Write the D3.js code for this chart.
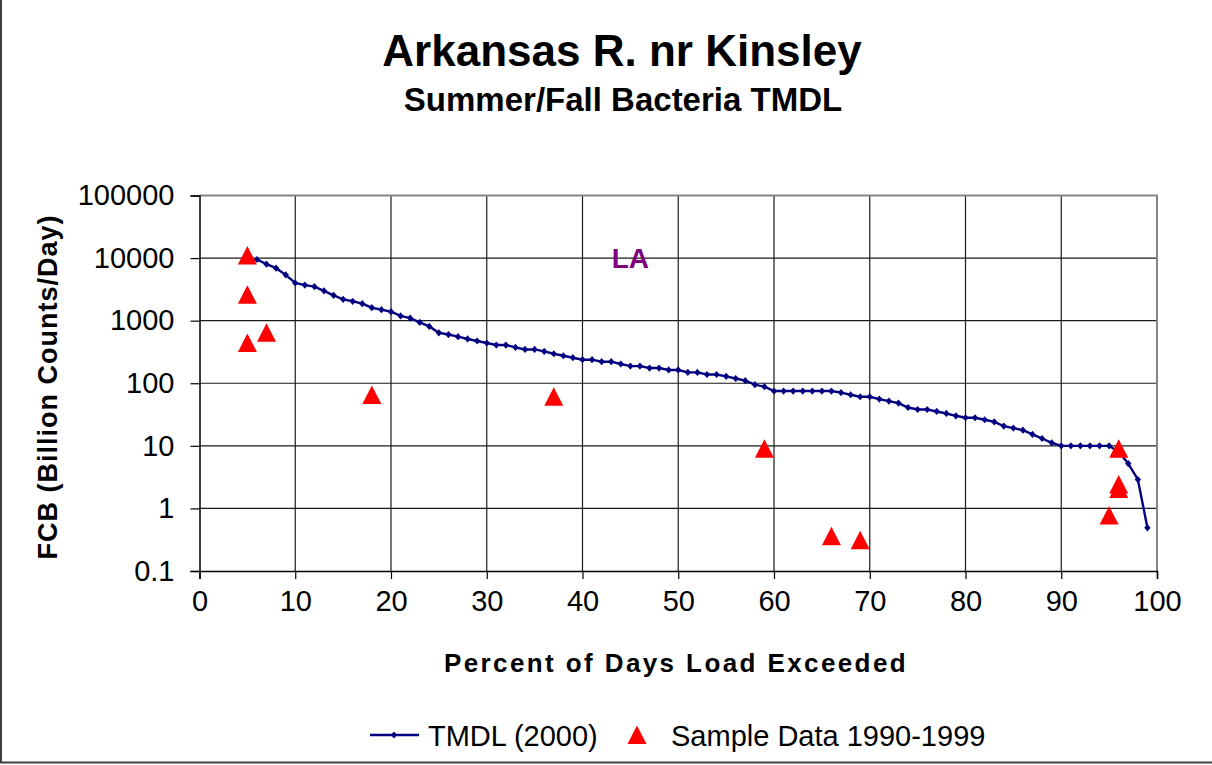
<!DOCTYPE html>
<html>
<head>
<meta charset="utf-8">
<script src="https://cdn.jsdelivr.net/npm/d3@7"></script>
<style>
  body { margin: 0; background: #fff; }
  svg { display: block; font-family: "Liberation Sans", Arial, sans-serif; }
</style>
</head>
<body>
<div id="chart"></div>
<script>
// TMDL curve (percent of days exceeded vs load)
const tmdlPct = [6, 7, 8, 9, 10, 11, 12, 13, 14, 15, 16, 17, 18, 19, 20, 21, 22, 23, 24, 25,
  26, 27, 28, 29, 30, 31, 32, 33, 34, 35, 36, 37, 38, 39, 40, 41, 42, 43, 44, 45,
  46, 47, 48, 49, 50, 51, 52, 53, 54, 55, 56, 57, 58, 59, 60, 61, 62, 63, 64, 65,
  66, 67, 68, 69, 70, 71, 72, 73, 74, 75, 76, 77, 78, 79, 80, 81, 82, 83, 84, 85,
  86, 87, 88, 89, 90, 91, 92, 93, 94, 95, 96, 97, 98, 99];
const tmdlLoad = [9500, 8000, 6900, 5400, 4000, 3700, 3500, 3000, 2540, 2190, 2040, 1870, 1610, 1500, 1390, 1190, 1100, 940, 810, 640,
  600, 555, 510, 473, 440, 408, 408, 374, 347, 347, 323, 296, 275, 256, 238, 238, 221, 221, 203, 188,
  188, 175, 175, 163, 163, 149, 149, 138, 138, 129, 119, 110, 95, 88, 75, 75, 75, 75, 75, 75,
  75, 71, 65.5, 60.8, 60.8, 55.9, 51.9, 48.2, 41, 38.1, 38.1, 35.4, 32.9, 30.2, 28.1, 28.1, 26.1, 24.2, 20.7, 19.2,
  17.8, 15.2, 13.1, 11.2, 10, 10, 10, 10, 10, 10, 8, 5.2, 2.9, 0.49];

// sample data 1990-1999
const samplePct = [5, 5, 5, 7, 18, 37, 59, 66, 69, 95, 96, 96, 96];
const sampleLoad = [11000, 2600, 440, 640, 65, 61, 9, 0.36, 0.31, 0.77, 9, 2.4, 2.05];

const xTicks = [0, 10, 20, 30, 40, 50, 60, 70, 80, 90, 100];
const yTicks = [0.1, 1, 10, 100, 1000, 10000, 100000];
const yTickLabels = ["0.1", "1", "10", "100", "1000", "10000", "100000"];

const width = 1212;
const height = 765;
const margin = { top: 195.5, right: 55, bottom: 194, left: 199.5 };

const svg = d3.select('#chart')
  .append('svg')
  .attr('width', width)
  .attr('height', height);

const x = d3.scaleLinear()
  .domain([0, 100])
  .range([margin.left, width - margin.right]);

const y = d3.scaleLog()
  .domain([0.1, 100000])
  .range([height - margin.bottom, margin.top]);

// outer chart border (left + bottom visible)
svg.append('path')
  .attr('d', `M1,0 V762.5 H${width}`)
  .attr('fill', 'none')
  .attr('stroke', '#404040')
  .attr('stroke-width', 2);

// titles
svg.append('text')
  .attr('x', 622).attr('y', 66)
  .attr('text-anchor', 'middle')
  .attr('font-weight', 'bold')
  .attr('font-size', 44)
  .text('Arkansas R. nr Kinsley');

svg.append('text')
  .attr('x', 623).attr('y', 111)
  .attr('text-anchor', 'middle')
  .attr('font-weight', 'bold')
  .attr('font-size', 33)
  .text('Summer/Fall Bacteria TMDL');

// grid
svg.append('g')
  .selectAll('line')
  .data(xTicks.slice(1, -1))
  .join('line')
  .attr('x1', d => x(d)).attr('x2', d => x(d))
  .attr('y1', y(100000)).attr('y2', y(0.1))
  .attr('stroke', '#1a1a1a')
  .attr('stroke-width', 1.2);

svg.append('g')
  .selectAll('line')
  .data(yTicks.slice(1, -1))
  .join('line')
  .attr('x1', x(0)).attr('x2', x(100))
  .attr('y1', d => y(d)).attr('y2', d => y(d))
  .attr('stroke', '#1a1a1a')
  .attr('stroke-width', 1.2);

// plot frame top/right in gray
svg.append('path')
  .attr('d', `M${x(0)},${y(100000)} H${x(100)} V${y(0.1)}`)
  .attr('fill', 'none')
  .attr('stroke', '#858585')
  .attr('stroke-width', 2);

// axes
function xAxis(g) {
  g.attr('transform', `translate(0,${y(0.1)})`)
    .call(d3.axisBottom(x).tickValues(xTicks).tickSize(8).tickPadding(11))
    .attr('font-size', 29)
    .attr('font-family', null);
  g.select('.domain').attr('stroke', '#000').attr('stroke-width', 1.5);
  g.selectAll('.tick line').attr('stroke', '#000').attr('stroke-width', 1.2);
  g.selectAll('.tick text').attr('fill', '#000');
}

function yAxis(g) {
  g.attr('transform', `translate(${x(0)},0)`)
    .call(d3.axisLeft(y).tickValues(yTicks).tickFormat((d, i) => yTickLabels[i]).tickSize(9).tickPadding(16))
    .attr('font-size', 29)
    .attr('font-family', null);
  g.select('.domain').attr('stroke', '#000').attr('stroke-width', 1.5);
  g.selectAll('.tick line').attr('stroke', '#000').attr('stroke-width', 1.2);
  g.selectAll('.tick text').attr('fill', '#000');
}

svg.append('g').call(xAxis);
svg.append('g').call(yAxis);

// axis titles
svg.append('text')
  .attr('x', 676).attr('y', 672)
  .attr('text-anchor', 'middle')
  .attr('font-weight', 'bold')
  .attr('font-size', 26)
  .attr('letter-spacing', 2.4)
  .text('Percent of Days Load Exceeded');

svg.append('text')
  .attr('transform', 'translate(57,387) rotate(-90)')
  .attr('text-anchor', 'middle')
  .attr('font-weight', 'bold')
  .attr('font-size', 27)
  .attr('letter-spacing', 1)
  .text('FCB (Billion Counts/Day)');

// TMDL line
const tmdl = tmdlPct.map((p, i) => ({ p, v: tmdlLoad[i] }));
const line = d3.line().x(d => x(d.p)).y(d => y(d.v));

svg.append('path')
  .datum(tmdl)
  .attr('d', line)
  .attr('fill', 'none')
  .attr('stroke', '#000080')
  .attr('stroke-width', 2.4);

const diamond = 'M0,-3.6L3.2,0L0,3.6L-3.2,0Z';
svg.append('g')
  .attr('fill', '#000080')
  .selectAll('path')
  .data(tmdl)
  .join('path')
  .attr('transform', d => `translate(${x(d.p)},${y(d.v)})`)
  .attr('d', diamond);

// samples
const tri = 'M0,-9.5L9.5,9L-9.5,9Z';
const samples = samplePct.map((p, i) => ({ p, v: sampleLoad[i] }));
svg.append('g')
  .attr('fill', '#ff0000')
  .selectAll('path')
  .data(samples)
  .join('path')
  .attr('transform', d => `translate(${x(d.p)},${y(d.v)})`)
  .attr('d', tri);

// LA annotation
svg.append('text')
  .attr('x', x(45)).attr('y', y(10000) + 10)
  .attr('text-anchor', 'middle')
  .attr('font-weight', 'bold')
  .attr('font-size', 28)
  .attr('fill', '#800080')
  .text('LA');

// legend
const lg = svg.append('g').attr('transform', 'translate(0,735)');
lg.append('line')
  .attr('x1', 370).attr('x2', 419)
  .attr('stroke', '#000080').attr('stroke-width', 2.4);
lg.append('path')
  .attr('transform', 'translate(394,0)')
  .attr('d', diamond).attr('fill', '#000080');
lg.append('text')
  .attr('x', 428).attr('y', 10.5)
  .attr('font-size', 29)
  .text('TMDL (2000)');
lg.append('path')
  .attr('transform', 'translate(637,0)')
  .attr('d', tri).attr('fill', '#ff0000');
lg.append('text')
  .attr('x', 671).attr('y', 10.5)
  .attr('font-size', 29)
  .text('Sample Data 1990-1999');
</script>
</body>
</html>
